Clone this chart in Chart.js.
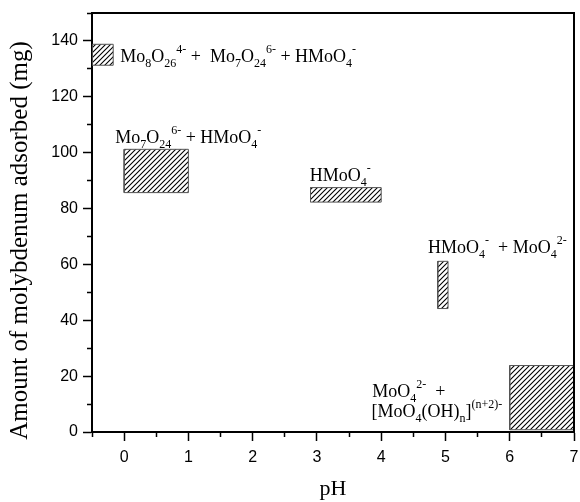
<!DOCTYPE html>
<html>
<head>
<meta charset="utf-8">
<script src="https://cdn.jsdelivr.net/npm/chart.js@4.4.1/dist/chart.umd.min.js"></script>
<style>
  html, body { margin: 0; padding: 0; background: #fff; }
  #wrap { width: 580px; height: 502px; }
</style>
</head>
<body>
<div id="wrap"><canvas id="chart"></canvas></div>
<script>
    // pH range and adsorbed amount of each hatched region
    const phLow  = [-0.5, 0, 2.9, 4.88, 6];
    const phHigh = [-0.17, 1, 4, 5.04, 7];
    const mgLow  = [131.3, 85.7, 82.3, 44.2, 0.8];
    const mgHigh = [138.8, 101.2, 87.5, 61.1, 23.8];

    // species labels, each part is [text, 'n' | 'sub' | 'sup']
    const speciesLabels = [
      [['Mo', 'n'], ['8', 'sub'], ['O', 'n'], ['26', 'sub'], ['4-', 'sup'], [' +  Mo', 'n'], ['7', 'sub'], ['O', 'n'], ['24', 'sub'], ['6-', 'sup'], [' + HMoO', 'n'], ['4', 'sub'], ['-', 'sup']],
      [['Mo', 'n'], ['7', 'sub'], ['O', 'n'], ['24', 'sub'], ['6-', 'sup'], [' + HMoO', 'n'], ['4', 'sub'], ['-', 'sup']],
      [['HMoO', 'n'], ['4', 'sub'], ['-', 'sup']],
      [['HMoO', 'n'], ['4', 'sub'], ['-', 'sup'], ['  + MoO', 'n'], ['4', 'sub'], ['2-', 'sup']],
      [['MoO', 'n'], ['4', 'sub'], ['2-', 'sup'], ['  +', 'n']],
      [['[MoO', 'n'], ['4', 'sub'], ['(OH)', 'n'], ['n', 'sub'], [']', 'n'], ['(n+2)-', 'sup']]
    ];
    const labelPH = [-0.06, -0.14, 2.89, 4.73, 3.86, 3.85];
    const labelMg = [132.4, 103.5, 89.8, 64.0, 12.5, 5.2];

    const serif = '"Liberation Serif", "Times New Roman", serif';
    const sans = '"Liberation Sans", Arial, sans-serif';

    // diagonal hatch fill
    function hatchPattern() {
      const c = document.createElement('canvas');
      c.width = 10;
      c.height = 10;
      const g = c.getContext('2d');
      g.strokeStyle = '#000';
      g.lineWidth = 1.1;
      g.beginPath();
      for (let k = -2; k <= 2; k++) {
        const o = k * 5;
        g.moveTo(o - 1, 11);
        g.lineTo(o + 11, -1);
      }
      g.stroke();
      return g.createPattern(c, 'repeat');
    }
    const hatch = hatchPattern();

    const boxes = phLow.map((lo, i) => ({
      data: [
        { x: lo, y: mgLow[i] },
        { x: phHigh[i], y: mgLow[i] },
        { x: phHigh[i], y: mgHigh[i] },
        { x: lo, y: mgHigh[i] },
        { x: lo, y: mgLow[i] }
      ],
      showLine: true,
      fill: 'shape',
      backgroundColor: hatch,
      borderColor: '#555',
      borderWidth: 1,
      pointRadius: 0,
      tension: 0
    }));

    // species text next to the regions
    const speciesPlugin = {
      id: 'species',
      afterDatasetsDraw(chart) {
        const { ctx, scales: { x, y } } = chart;
        ctx.save();
        ctx.fillStyle = '#000';
        ctx.textBaseline = 'alphabetic';
        speciesLabels.forEach((parts, i) => {
          let px = x.getPixelForValue(labelPH[i]);
          const py = y.getPixelForValue(labelMg[i]);
          parts.forEach(([txt, kind]) => {
            const size = kind === 'n' ? 18 : 12;
            const dy = kind === 'sub' ? 5 : kind === 'sup' ? -9 : 0;
            ctx.font = size + 'px ' + serif;
            ctx.fillText(txt, px, py + dy);
            px += ctx.measureText(txt).width;
          });
        });
        ctx.restore();
      }
    };

    // top and right sides of the frame, plus the y axis title
    const framePlugin = {
      id: 'frame',
      afterDraw(chart) {
        const { ctx, chartArea: a } = chart;
        ctx.save();
        ctx.strokeStyle = '#000';
        ctx.lineWidth = 2;
        ctx.beginPath();
        ctx.moveTo(a.left - 1, a.top);
        ctx.lineTo(a.right, a.top);
        ctx.lineTo(a.right, a.bottom + 1);
        ctx.stroke();

        ctx.translate(20, (a.top + a.bottom) / 2 + 18);
        ctx.rotate(-Math.PI / 2);
        ctx.fillStyle = '#000';
        ctx.font = '25px ' + serif;
        ctx.textAlign = 'center';
        ctx.textBaseline = 'middle';
        ctx.fillText('Amount of molybdenum adsorbed (mg)', 0, 0);
        ctx.restore();
      }
    };

    new Chart(document.getElementById('chart'), {
      type: 'scatter',
      data: { datasets: boxes },
      options: {
        responsive: true,
        maintainAspectRatio: false,
        animation: false,
        layout: { padding: { top: 13, right: 6, left: 0, bottom: 0 } },
        plugins: {
          legend: { display: false },
          tooltip: { enabled: false }
        },
        scales: {
          x: {
            type: 'linear',
            min: -0.5,
            max: 7,
            afterFit: s => {
              s.height = 70;
              s.paddingLeft = 0;
              s.paddingRight = 0;
            },
            border: { display: true, color: '#000', width: 2 },
            grid: {
              drawOnChartArea: false,
              tickLength: 9,
              tickColor: '#000',
              tickWidth: 1.5,
              tickBorderDash: c => Number.isInteger(c.tick.value) ? [] : [4, 20]
            },
            ticks: {
              stepSize: 0.5,
              autoSkip: false,
              maxRotation: 0,
              padding: 7,
              color: '#000',
              font: { family: sans, size: 16 },
              callback: v => Number.isInteger(v) ? v : ''
            },
            title: {
              display: true,
              text: 'pH',
              color: '#000',
              font: { family: serif, size: 22, lineHeight: 1 },
              padding: { top: 0, bottom: 2 }
            }
          },
          y: {
            min: 0,
            max: 150,
            afterFit: s => {
              s.width = 92;
              s.paddingTop = 0;
              s.paddingBottom = 0;
            },
            border: { display: true, color: '#000', width: 2 },
            grid: {
              drawOnChartArea: false,
              tickLength: 9,
              tickColor: '#000',
              tickWidth: 1.5,
              tickBorderDash: c => c.tick.value % 20 === 0 ? [] : [4, 4],
              tickBorderDashOffset: c => c.tick.value % 20 === 0 ? 0 : 4
            },
            ticks: {
              stepSize: 10,
              autoSkip: false,
              padding: 5,
              color: '#000',
              font: { family: sans, size: 16 },
              callback: v => (v % 20 === 0 && v <= 140) ? v : ''
            }
          }
        }
      },
      plugins: [speciesPlugin, framePlugin]
    });
</script>
</body>
</html>
